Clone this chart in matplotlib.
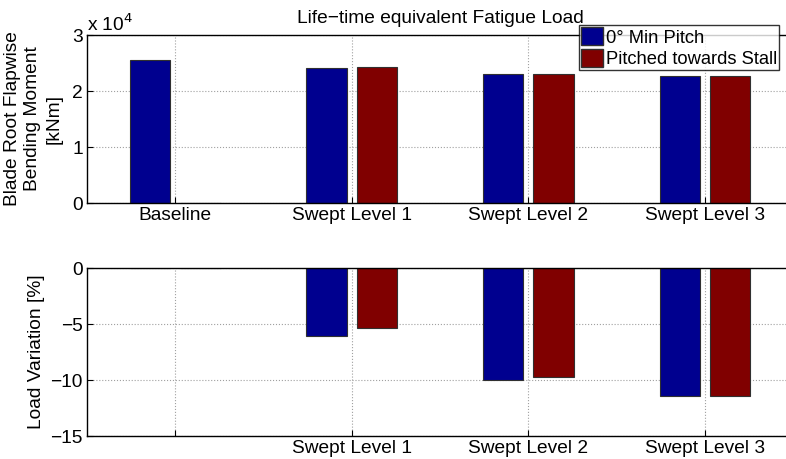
import numpy as np
import matplotlib
matplotlib.use("Agg")
import matplotlib.pyplot as plt
from matplotlib.ticker import FuncFormatter
from matplotlib.patches import Patch

plt.rcParams["font.family"] = ["Liberation Sans", "DejaVu Sans"]

categories = ["Baseline", "Swept Level 1", "Swept Level 2", "Swept Level 3"]
series_names = ["0° Min Pitch", "Pitched towards Stall"]
# lifetime equivalent load [kNm]
load_min_pitch = [25600, 24050, 23040, 22690]
load_stall = [0, 24300, 23120, 22690]
# variation vs baseline [%]
var_min_pitch = [0, -6.1, -10.0, -11.4]
var_stall = [0, -5.4, -9.75, -11.4]

blue, red = "#00008f", "#800000"
fs = 13.8

fig = plt.figure(figsize=(7.86, 4.59), dpi=100)
ax1 = fig.add_axes([0.1107, 0.5577, 0.8985, 0.366])
ax2 = fig.add_axes([0.1107, 0.0501, 0.8985, 0.366])

x = np.arange(1, len(categories) + 1)
w, off = 0.2286, 0.143

for ax, a, b in [(ax1, load_min_pitch, load_stall), (ax2, var_min_pitch, var_stall)]:
    ax.bar(x - off, a, w, color=blue, edgecolor="#303030", linewidth=0.8, zorder=3)
    ax.bar(x + off, b, w, color=red, edgecolor="#303030", linewidth=0.8, zorder=3)
    ax.set_xlim(0.5, 4.5)
    ax.set_xticks(x)
    ax.grid(True, linestyle=":", color="#a0a0a0", linewidth=0.8, zorder=0)
    ax.tick_params(direction="in", length=4, labelsize=fs, width=0.8, pad=3)
    for s in ax.spines.values():
        s.set_linewidth(1.0)
        s.set_zorder(4)

ax1.set_ylim(0, 30000)
ax1.set_yticks([0, 10000, 20000, 30000])
ax1.yaxis.set_major_formatter(FuncFormatter(lambda v, p: f"{v/1e4:g}"))
ax1.set_xticklabels(categories)
ax1.text(0.0, 1.0, r"x 10$^4$", transform=ax1.transAxes, fontsize=fs, ha="left", va="bottom")
ax1.set_ylabel("Blade Root Flapwise\nBending Moment\n[kNm]", fontsize=fs, linespacing=1.3, labelpad=7)
ax1.set_title("Life\u2212time equivalent Fatigue Load", fontsize=fs, pad=9)

ax2.set_ylim(-15, 0)
ax2.set_yticks([-15, -10, -5, 0])
ax2.yaxis.set_major_formatter(FuncFormatter(lambda v, p: f"{v:g}".replace("-", "\u2212")))
ax2.set_xticklabels([""] + categories[1:])
ax2.set_ylabel("Load Variation [%]", fontsize=fs, labelpad=4)

handles = [Patch(facecolor=blue, edgecolor="#303030"), Patch(facecolor=red, edgecolor="#303030")]
leg = fig.legend(handles, series_names, loc="upper left", bbox_to_anchor=(579 / 786, 1 - 25 / 459),
                 fontsize=13.2, frameon=True, fancybox=False, handlelength=1.2, handleheight=1.15,
                 handletextpad=0.15, borderpad=0.12, labelspacing=0.12, borderaxespad=0)
leg.get_frame().set_edgecolor("black")
leg.get_frame().set_linewidth(1.0)

fig.savefig("out.png", dpi=100)
